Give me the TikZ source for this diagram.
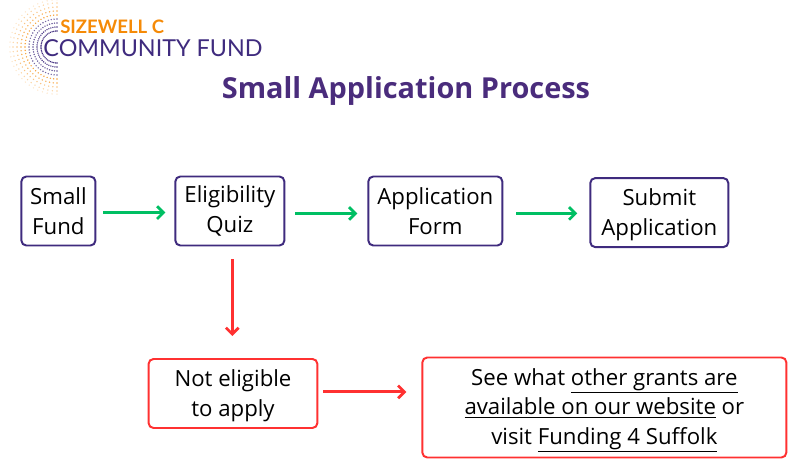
\documentclass[tikz,border=0pt]{standalone}
\usepackage{fontspec}
\setmainfont{Open Sans}
\newfontfamily\logofont{Lato}
\usetikzlibrary{positioning,arrows.meta}
\definecolor{fundpurple}{HTML}{3F2B7E}
\definecolor{titlepurple}{HTML}{4A2C7C}
\definecolor{okgreen}{HTML}{00BF63}
\definecolor{stopred}{HTML}{FF3131}
\definecolor{logoorange}{HTML}{F58A07}
\newcommand{\droptext}[1]{\rule{0pt}{#1}}

\begin{document}
\begin{tikzpicture}[
    node distance=1.95cm,
    stage/.style={rectangle, draw=fundpurple, line width=1.4pt, rounded corners=3.5pt, align=center,
        font=\fontsize{15.8}{21}\selectfont, minimum height=1.725cm, inner sep=0pt},
    stopbox/.style={stage, draw=stopred},
    greenarrow/.style={-{Straight Barb[length=4.5pt,width=9pt]}, line width=2pt, okgreen},
    redarrow/.style={-{Straight Barb[length=4.5pt,width=9pt]}, line width=2pt, stopred}
]
\useasboundingbox (0,0) rectangle (20,11.825);

% Logo
\foreach \r/\c/\o in {0.40/fundpurple/1,0.50/fundpurple/0.9,0.60/fundpurple/0.8,0.70/fundpurple/0.7,
    0.80/logoorange/0.8,0.90/logoorange/0.7,1.00/logoorange/0.5,1.10/logoorange/0.35,1.18/logoorange/0.2}
    \foreach \a in {90,96,...,270}
        \fill[\c, opacity=\o] (1.425,10.65) ++(\a:\r) circle (0.55pt);
\node[font=\logofont\bfseries\fontsize{13.2}{14}\selectfont, text=logoorange, anchor=west, inner sep=0pt] (logotop) at (1.5,11.16) {SIZEWELL C};
\node[font=\logofont\fontsize{16.6}{18}\selectfont, text=fundpurple, anchor=west, inner sep=0pt] (logofund) at (1.08,10.63) {COMMUNITY FUND};

% Title
\node[font=\bfseries\fontsize{20.55}{24}\selectfont, text=titlepurple, inner sep=0pt] (title) at (10.15,9.55) {Small Application Process};

% Top row
\node[stage, minimum width=1.85cm] (small) at (1.46,6.55) {Small\\Fund};
\node[stage, minimum width=2.725cm, right=of small] (quiz) {Eligibility\\Quiz};
\node[stage, minimum width=3.35cm, right=2.05cm of quiz] (form) {Application\\Form};
\node[stage, minimum width=3.45cm, right=2.15cm of form, yshift=-0.04cm] (submit) {\droptext{15pt}Submit\\Application};

% Bottom row
\node[stopbox, minimum width=4.22cm, anchor=north west] (noteligible) at (3.69,2.875) {\droptext{15pt}Not eligible\\to apply};
\node[stopbox, minimum width=9.1cm, minimum height=2.5cm, right=2.575cm of noteligible, yshift=-0.35cm] (grants)
    {\droptext{16pt}See what \underline{other grants are}\\\underline{available on our website} or\\visit \underline{Funding 4 Suffolk}};

% Arrows
\draw[greenarrow, shorten <=0.175cm, shorten >=0.225cm] ([yshift=-0.04cm]small.east) -- ([yshift=-0.04cm]quiz.west);
\draw[greenarrow, shorten <=0.25cm, shorten >=0.25cm] ([yshift=-0.06cm]quiz.east) -- ([yshift=-0.06cm]form.west);
\draw[greenarrow, shorten <=0.325cm, shorten >=0.3cm] ([yshift=-0.06cm]form.east) -- ([yshift=-0.06cm]form.east -| submit.west);
\draw[redarrow, shorten <=0.325cm, shorten >=0.55cm] ([xshift=0.06cm]quiz.south) -- ([xshift=0.06cm]quiz.south |- noteligible.north);
\draw[redarrow, shorten <=0.125cm, shorten >=0.375cm] ([yshift=0.04cm]noteligible.east) -- ([yshift=0.04cm]noteligible.east -| grants.west);

\end{tikzpicture}
\end{document}
